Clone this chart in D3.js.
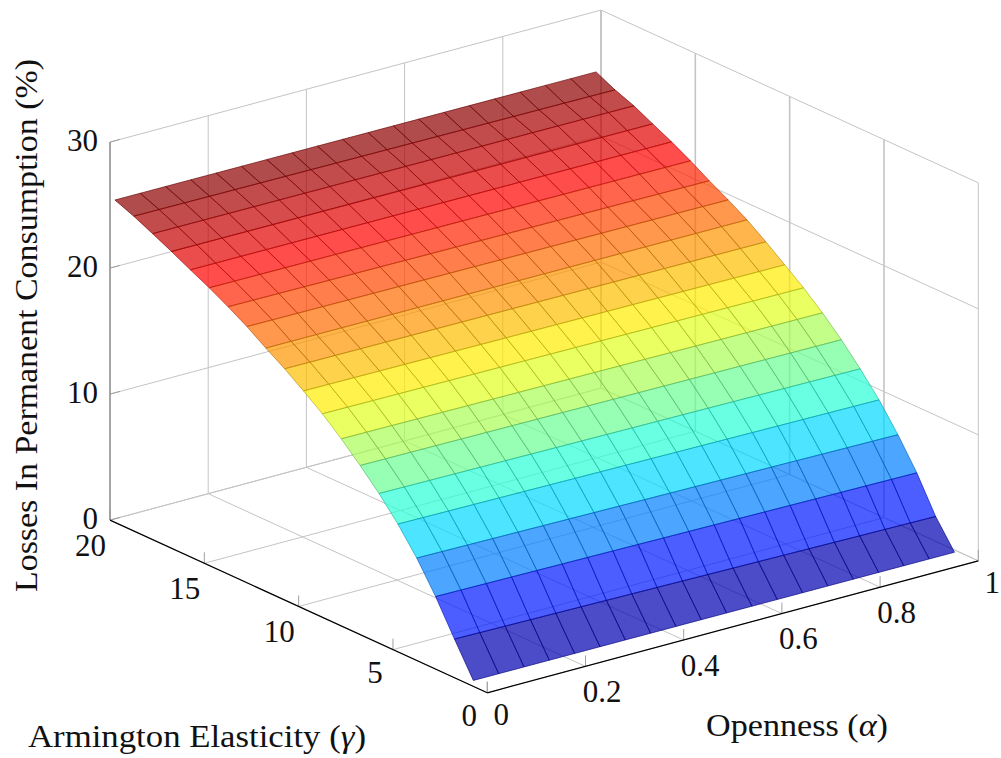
<!DOCTYPE html>
<html>
<head>
<meta charset="utf-8">
<script src="https://cdn.jsdelivr.net/npm/d3@7"></script>
<style>
html,body{margin:0;padding:0;background:#fff;overflow:hidden}
svg{display:block}
text{font-family:"Liberation Serif",serif;fill:#111;font-size:31px}
</style>
</head>
<body>
<svg id="chart" width="1001" height="758"></svg>
<script>
const opennessGrid = [0.01,0.0616,0.1132,0.1647,0.2163,0.2679,0.3195,0.3711,0.4226,0.4742,0.5258,0.5774,0.6289,0.6805,0.7321,0.7837,0.8353,0.8868,0.9384,0.99];
const elasticityGrid = [1,2,3,4,5,6,7,8,9,10,11,12,13,14,15,16,17,18,19,20];
const lossAtLowOpenness = [0.19,2.79,5.48,7.85,9.86,11.6,13.14,14.57,15.87,17.0,18.07,19.03,20.05,20.94,21.76,22.5,23.27,24.0,24.7,25.3];
const lossAtHighOpenness = [0.1,2.25,5.03,7.37,9.45,11.23,12.85,14.3,15.6,16.74,17.88,18.94,19.84,20.67,21.57,22.39,23.13,23.88,24.46,25.2];
const opennessTicks = [0,0.2,0.4,0.6,0.8,1];
const opennessTickLabels = ["0","0.2","0.4","0.6","0.8","1"];
const elasticityTicks = [0,5,10,15,20];
const lossTicks = [0,10,20,30];
const jetStops = [0,0.125,0.375,0.625,0.875,1];
const jetColors = ["#000080","#0000ff","#00ffff","#ffff00","#ff0000","#800000"];

const svg = d3.select("#chart");

// Parallel projection of the box onto the page
const originX = 487.3, originY = 692.8;
const axX = d3.scaleLinear().domain([0,1]).range([0,491]);
const axY = d3.scaleLinear().domain([0,1]).range([0,-132]);
const elX = d3.scaleLinear().domain([0,20]).range([0,-377.3]);
const elY = d3.scaleLinear().domain([0,20]).range([0,-172.7]);
const loY = d3.scaleLinear().domain([0,30]).range([0,-378]);
const px = (a,g) => originX + axX(a) + elX(g);
const py = (a,g,z) => originY + axY(a) + elY(g) + loY(z);
const P = (a,g,z) => [px(a,g), py(a,g,z)];

const aMax = opennessGrid[opennessGrid.length-1], aMin = opennessGrid[0];
const surfaceAt = (i,j) => d3.scaleLinear().domain([aMin,aMax]).range([lossAtLowOpenness[j],lossAtHighOpenness[j]])(opennessGrid[i]);

const rowMeans = elasticityGrid.map((_,j)=> (lossAtLowOpenness[j]+lossAtHighOpenness[j])/2);
const zMin = d3.min(rowMeans), zMax = d3.max(rowMeans);
const meta = d3.scaleLinear().domain([zMin,zMax]).range([0,1]);
const jet = d3.scaleLinear().domain(jetStops).range(jetColors).interpolate(d3.interpolateRgb);

const gridColor = "#c4c4c4", tickColor = "#a0a0a0";
const line = d3.line();
const gridG = svg.append("g").attr("fill","none").attr("stroke",gridColor).attr("stroke-width",1);
const seg = (g,a,b,col,w) => g.append("path").attr("d",line([a,b])).attr("stroke",col||gridColor).attr("stroke-width",w||1);

// Walls: elasticity = 20 plane and openness = 1 plane, and the floor
opennessTicks.forEach(a=>{
  seg(gridG,P(a,20,0),P(a,20,30),null,a===1?1.6:1);
  seg(gridG,P(a,0,0),P(a,20,0));
});
elasticityTicks.forEach(g=>{
  seg(gridG,P(1,g,0),P(1,g,30),null,g===0?1:1.6);
  seg(gridG,P(0,g,0),P(1,g,0));
});
lossTicks.forEach(z=>{
  seg(gridG,P(0,20,z),P(1,20,z));
  seg(gridG,P(1,20,z),P(1,0,z));
});

// Axis ticks
const tickG = svg.append("g").attr("fill","none");
opennessTicks.forEach(a=>seg(tickG,P(a,0,0),[px(a,0),py(a,0,0)-11],tickColor));
elasticityTicks.forEach(g=>seg(tickG,P(0,g,0),[px(0,g),py(0,g,0)-11],tickColor));
lossTicks.forEach(z=>seg(tickG,P(0,20,z),[px(0,20)+10,py(0,20,z)-2.7],tickColor));

// Axis lines
seg(tickG,P(0,20,0),P(0,20,30),"#9a9a9a",1.7);
seg(tickG,P(0,20,0),P(0,0,0),"#000",1.2);
seg(tickG,P(0,0,0),P(1,0,0),"#000",1.2);

// Surface facets, back to front
const facets = [];
for(let j=elasticityGrid.length-2;j>=0;j--){
  for(let i=0;i<opennessGrid.length-1;i++){
    const a0=opennessGrid[i],a1=opennessGrid[i+1],g0=elasticityGrid[j],g1=elasticityGrid[j+1];
    facets.push({
      pts:[P(a0,g0,surfaceAt(i,j)),P(a1,g0,surfaceAt(i+1,j)),P(a1,g1,surfaceAt(i+1,j+1)),P(a0,g1,surfaceAt(i,j+1))],
      m:(rowMeans[j]+rowMeans[j+1])/2
    });
  }
}
svg.append("g").selectAll("path").data(facets).join("path")
  .attr("d",d=>line(d.pts)+"Z")
  .attr("fill",d=>jet(meta(d.m)))
  .attr("fill-opacity",0.7)
  .attr("stroke",d=>d3.interpolateRgb(jet(meta(d.m)),"#000")(0.3))
  .attr("stroke-opacity",0.7)
  .attr("stroke-width",0.9)
  .attr("stroke-linejoin","round");

// Tick labels
const labels = svg.append("g").attr("text-anchor","middle").attr("dominant-baseline","central");
opennessTicks.forEach((a,i)=>{
  const isEnd = a===0||a===1;
  labels.append("text").attr("x",px(a,0)+(isEnd?14:16.5)).attr("y",py(a,0,0)+(isEnd?22:25)).text(opennessTickLabels[i]);
});
elasticityTicks.forEach(g=>{
  labels.append("text").attr("x",px(0,g)+(g%10===5&&g<10||g===0?-18:-19.5)).attr("y",py(0,g,0)+(g<10?22.5:25)).text(g);
});
lossTicks.forEach(z=>{
  svg.append("text").attr("text-anchor","end").attr("dominant-baseline","central")
    .attr("x",98).attr("y",py(0,20,z)-1.5).text(z);
});

// Axis titles
const title = (x,y,rot,len,main,sym,tail) => {
  const t = svg.append("text").attr("transform",`translate(${x},${y}) rotate(${rot})`)
    .attr("textLength",len).attr("lengthAdjust","spacingAndGlyphs");
  t.append("tspan").text(main);
  if(sym) t.append("tspan").attr("font-style","italic").text(sym);
  t.append("tspan").text(tail);
};
title(28,746.5,0,338,"Armington Elasticity (","γ",")");
title(706,736,0,182,"Openness (","α",")");
title(37,592,-90,533,"Losses In Permanent Consumption (%)",null,"");
</script>
</body>
</html>
